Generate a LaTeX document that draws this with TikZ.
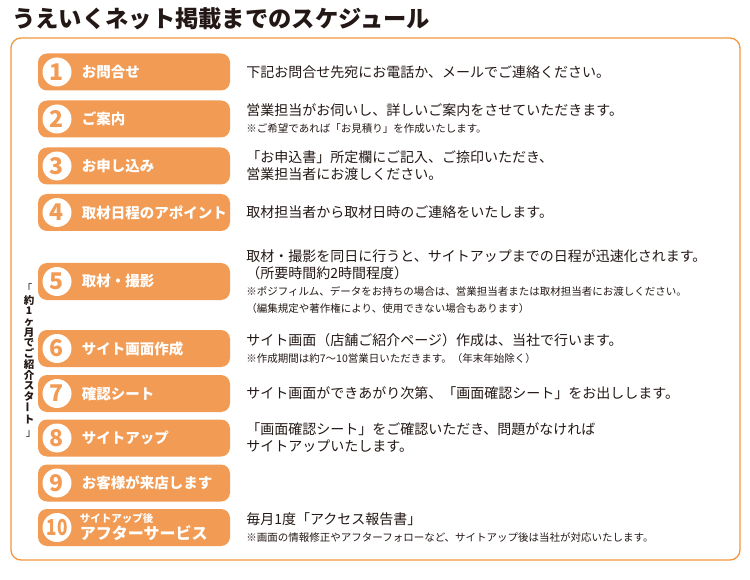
\documentclass[tikz,border=0pt]{standalone}
\usepackage{fontspec}
\setmainfont{Noto Sans CJK JP}
\usetikzlibrary{positioning}
\definecolor{pillorange}{RGB}{241,155,84}
\definecolor{frameorange}{RGB}{243,150,62}
\definecolor{inkc}{RGB}{35,24,21}
\newcommand{\mainsz}{\fontsize{14}{17}\selectfont}
\newcommand{\notesz}{\fontsize{10.5}{15}\selectfont}

\begin{document}
\begin{tikzpicture}[x=1pt, y=-1pt,
  every node/.style={inner sep=0pt, text=inkc},
  pill/.style={fill=pillorange, rounded corners=9pt, minimum width=192pt, minimum height=37pt},
  numdot/.style={circle, fill=white, minimum size=29pt, text=pillorange, font=\fontsize{23}{23}\selectfont\bfseries},
  pilltext/.style={text=white, font=\fontsize{14.5}{17}\selectfont\bfseries},
  desc/.style={align=left, font=\mainsz}]
  \useasboundingbox (0,0) rectangle (750,580);
  % Titre
  \node[anchor=west, font=\fontsize{23.3}{26}\selectfont\bfseries] (title) at (12,19) {うえいくネット掲載までのスケジュール};
  % Cadre
  \draw[frameorange, line width=1.3pt, rounded corners=10pt] (11,38) rectangle (740,560);
  % 1
  \node[pill] (p1) at (134,72) {};
  \node[numdot, right=4.5pt of p1.west] (n1) {1};
  \node[pilltext, right=10pt of n1] (l1) {お問合せ};
  \node[desc, right=16pt of p1] (d1) {下記お問合せ先宛にお電話か、メールでご連絡ください。};
  % 2
  \node[pill] (p2) at (134,119) {};
  \node[numdot, right=4.5pt of p2.west] (n2) {2};
  \node[pilltext, right=10pt of n2] (l2) {ご案内};
  \node[desc, right=16pt of p2] (d2) {営業担当がお伺いし、詳しいご案内をさせていただきます。\\
    {\notesz ※ご希望であれば「お見積り」を作成いたします。}};
  % 3
  \node[pill] (p3) at (134,166) {};
  \node[numdot, right=4.5pt of p3.west] (n3) {3};
  \node[pilltext, right=10pt of n3] (l3) {お申し込み};
  \node[desc, right=16pt of p3] (d3) {「お申込書」所定欄にご記入、ご捺印いただき、\\営業担当者にお渡しください。};
  % 4
  \node[pill] (p4) at (134,212.5) {};
  \node[numdot, right=4.5pt of p4.west] (n4) {4};
  \node[pilltext, right=10pt of n4] (l4) {取材日程のアポイント};
  \node[desc, right=16pt of p4] (d4) {取材担当者から取材日時のご連絡をいたします。};
  % 5
  \node[pill] (p5) at (134,281.5) {};
  \node[numdot, right=4.5pt of p5.west] (n5) {5};
  \node[pilltext, right=10pt of n5] (l5) {取材・撮影};
  \node[desc, right=16pt of p5] (d5) {取材・撮影を同日に行うと、サイトアップまでの日程が迅速化されます。\\
    （所要時間約2時間程度）\\
    {\notesz ※ポジフィルム、データをお持ちの場合は、営業担当者または取材担当者にお渡しください。}\\
    {\notesz （編集規定や著作権により、使用できない場合もあります）}};
  % 6
  \node[pill] (p6) at (134,348.5) {};
  \node[numdot, right=4.5pt of p6.west] (n6) {6};
  \node[pilltext, right=10pt of n6] (l6) {サイト画面作成};
  \node[desc, right=16pt of p6] (d6) {サイト画面（店舗ご紹介ページ）作成は、当社で行います。\\
    {\notesz ※作成期間は約7～10営業日いただきます。（年末年始除く）}};
  % 7
  \node[pill] (p7) at (134,393.5) {};
  \node[numdot, right=4.5pt of p7.west] (n7) {7};
  \node[pilltext, right=10pt of n7] (l7) {確認シート};
  \node[desc, right=16pt of p7] (d7) {サイト画面ができあがり次第、「画面確認シート」をお出しします。};
  % 8
  \node[pill] (p8) at (134,438) {};
  \node[numdot, right=4.5pt of p8.west] (n8) {8};
  \node[pilltext, right=10pt of n8] (l8) {サイトアップ};
  \node[desc, right=16pt of p8] (d8) {「画面確認シート」をご確認いただき、問題がなければ\\サイトアップいたします。};
  % 9
  \node[pill] (p9) at (134,483) {};
  \node[numdot, right=4.5pt of p9.west] (n9) {9};
  \node[pilltext, right=10pt of n9] (l9) {お客様が来店します};
  % 10
  \node[pill] (p10) at (134,527.5) {};
  \node[numdot, right=4.5pt of p10.west, font=\fontsize{22}{22}\selectfont\bfseries] (n10) {\scalebox{0.78}[1]{10}};
  \node[pilltext, right=8pt of n10, align=left] (l10) {{\fontsize{10.5}{12}\selectfont サイトアップ後}\\
    {\fontsize{16}{17}\selectfont アフターサービス}};
  \node[desc, right=16pt of p10] (d10) {毎月1度「アクセス報告書」\\
    {\notesz ※画面の情報修正やアフターフォローなど、サイトアップ後は当社が対応いたします。}};
  % Mention verticale
  \node[font=\fontsize{10.5}{10.5}\selectfont] (vopen) at (27,288) {「};
  \node[anchor=north, align=center, font=\fontsize{10.5}{10.7}\selectfont\bfseries] (vtext) at (29,295)
    {約\\1\\ヶ\\月\\で\\ご\\紹\\介\\ス\\タ\\\rotatebox{90}{ー}\\ト};
  \node[font=\fontsize{10.5}{10.5}\selectfont] (vclose) at (31,434) {」};
\end{tikzpicture}
\end{document}
